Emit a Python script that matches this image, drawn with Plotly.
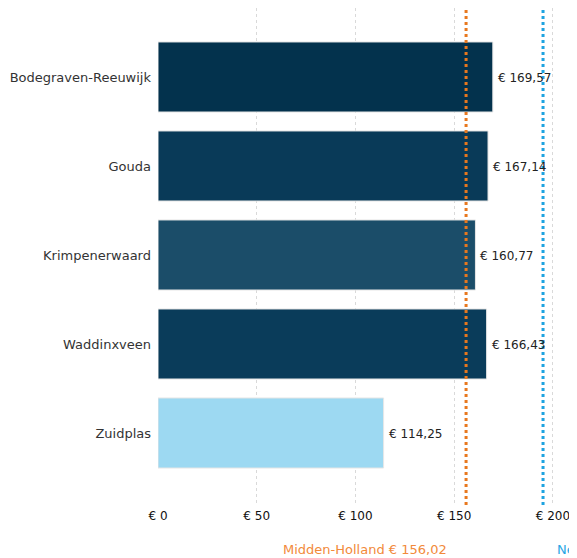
import plotly.graph_objects as go

categories = ["Bodegraven-Reeuwijk", "Gouda", "Krimpenerwaard", "Waddinxveen", "Zuidplas"]
values = [169.57, 167.14, 160.77, 166.43, 114.25]
bar_colors = ["#03324d", "#093a58", "#1b4d69", "#0a3c5a", "#9dd9f2"]
tick_values = [0, 50, 100, 150, 200]
tick_labels = ["€ 0", "€ 50", "€ 100", "€ 150", "€ 200"]
ref_names = ["Midden-Holland", "Nederland"]
ref_values = [156.02, 195.0]
ref_colors = ["#e8781e", "#1ea3e0"]
ref_text_colors = ["#f28a3a", "#2aa6e4"]

FONT = "DejaVu Sans"

def euro(v):
    return "€ " + f"{v:.2f}".replace(".", ",")

fig = go.Figure()
fig.add_trace(go.Bar(
    y=categories, x=values, orientation="h",
    marker=dict(color=bar_colors, line=dict(color="#e6e6e6", width=1)),
    width=0.787, hoverinfo="skip", showlegend=False,
))

for c, v in zip(categories, values):
    fig.add_annotation(x=v, y=c, text=euro(v), showarrow=False, xanchor="left",
                       xshift=3, yshift=-1, font=dict(family=FONT, size=12, color="#222222"))

for i, (n, v) in enumerate(zip(ref_names, ref_values)):
    fig.add_shape(type="line", x0=v, x1=v, xref="x", yref="paper", y0=0, y1=1,
                  line=dict(color=ref_colors[i], width=3, dash="dot"), layer="above")
    if i == 0:
        fig.add_annotation(x=v, xref="x", y=0, yref="paper", yshift=-44, yanchor="middle",
                           xanchor="right", xshift=-17, showarrow=False,
                           text=f"{n} {euro(v)}",
                           font=dict(family=FONT, size=13, color=ref_text_colors[i]))
    else:
        fig.add_annotation(x=v, xref="x", y=0, yref="paper", yshift=-44, yanchor="middle",
                           xanchor="left", xshift=12, showarrow=False,
                           text=f"{n} {euro(v)}",
                           font=dict(family=FONT, size=13, color=ref_text_colors[i]))

fig.update_layout(
    width=577, height=558,
    margin=dict(l=150, r=8, t=0, b=61, autoexpand=False),
    plot_bgcolor="white", paper_bgcolor="white",
    font=dict(family=FONT, size=12, color="#333333"),
    xaxis=dict(range=[0, 212.2], tickvals=tick_values, ticktext=tick_labels,
               showgrid=True, gridcolor="#d9d9d9", griddash="dot", gridwidth=1,
               zeroline=False, showline=False, ticks="", ticklabelstandoff=2,
               automargin=False,
               tickfont=dict(family=FONT, size=12, color="#111111")),
    yaxis=dict(range=[4.809, -0.775], showgrid=False, zeroline=False, showline=False,
               ticks="", ticklabelstandoff=6, automargin=False,
               tickfont=dict(family=FONT, size=13, color="#333333")),
)

fig.write_html("out.html")
